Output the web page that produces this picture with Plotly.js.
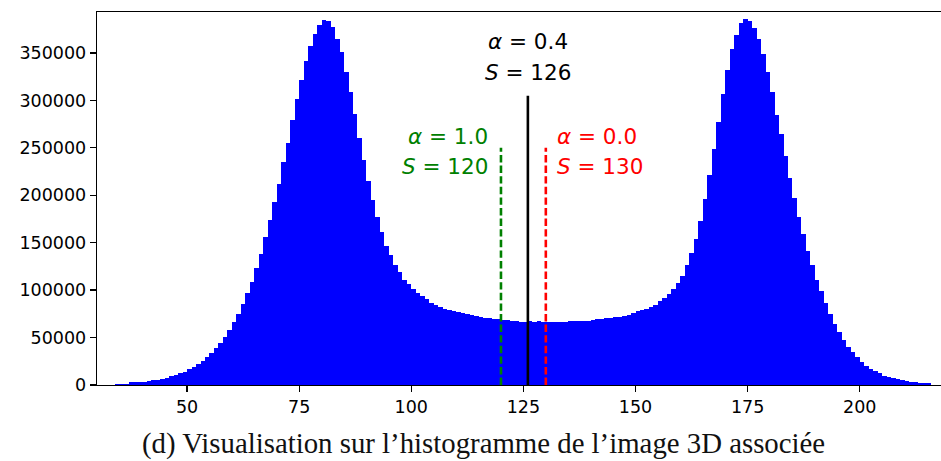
<!DOCTYPE html>
<html>
<head>
<meta charset="utf-8">
<script src="https://cdn.plot.ly/plotly-3.0.1.min.js"></script>
<style>
  html, body { margin: 0; padding: 0; background: #fff; }
  #chart { width: 941px; height: 461px; }
</style>
</head>
<body>
<div id="chart"></div>
<script>
// Grey level (bin start, bins of width 1)
const intensities = [
  34, 35, 36, 37, 38, 39, 40, 41, 42, 43,
  44, 45, 46, 47, 48, 49, 50, 51, 52, 53,
  54, 55, 56, 57, 58, 59, 60, 61, 62, 63,
  64, 65, 66, 67, 68, 69, 70, 71, 72, 73,
  74, 75, 76, 77, 78, 79, 80, 81, 82, 83,
  84, 85, 86, 87, 88, 89, 90, 91, 92, 93,
  94, 95, 96, 97, 98, 99, 100, 101, 102, 103,
  104, 105, 106, 107, 108, 109, 110, 111, 112, 113,
  114, 115, 116, 117, 118, 119, 120, 121, 122, 123,
  124, 125, 126, 127, 128, 129, 130, 131, 132, 133,
  134, 135, 136, 137, 138, 139, 140, 141, 142, 143,
  144, 145, 146, 147, 148, 149, 150, 151, 152, 153,
  154, 155, 156, 157, 158, 159, 160, 161, 162, 163,
  164, 165, 166, 167, 168, 169, 170, 171, 172, 173,
  174, 175, 176, 177, 178, 179, 180, 181, 182, 183,
  184, 185, 186, 187, 188, 189, 190, 191, 192, 193,
  194, 195, 196, 197, 198, 199, 200, 201, 202, 203,
  204, 205, 206, 207, 208, 209, 210, 211, 212, 213,
  214, 215
];
// Voxel counts per grey level
const counts = [
  1400, 1400, 1500, 2800, 2800, 2900, 3000, 3900, 4900, 5000,
  6000, 7400, 9500, 10500, 12300, 13300, 16500, 18600, 21800, 24900,
  29100, 33300, 38600, 43900, 50200, 57500, 66000, 74400, 84900, 96800,
  109000, 122800, 138400, 156300, 174200, 193200, 212100, 235300, 255300, 279500,
  301600, 321600, 341600, 357400, 370000, 379500, 384700, 383700, 377400, 364700,
  351000, 330000, 309000, 285800, 260500, 237400, 215300, 195300, 177400, 161000,
  147000, 137500, 127000, 118600, 111200, 106000, 100700, 96500, 93700, 90200,
  86700, 84600, 81800, 80000, 79000, 77900, 76500, 75400, 74400, 73300,
  72300, 71200, 71000, 70200, 69500, 69300, 68800, 68100, 67000, 67000,
  66900, 66900, 67000, 66300, 67000, 66500, 66000, 66000, 66000, 66000,
  66100, 67000, 67000, 67000, 67100, 67200, 68100, 69100, 69200, 70200,
  70300, 71200, 71400, 73000, 74000, 75400, 77500, 78600, 79600, 81800,
  84600, 88100, 91200, 95400, 100700, 107000, 115400, 126000, 139500, 154200,
  173200, 196300, 221600, 248900, 277400, 306800, 332100, 354200, 368900, 381600,
  385800, 383700, 376300, 364700, 348900, 330000, 308900, 284700, 264700, 241600,
  218400, 197400, 177400, 159500, 141700, 126300, 111200, 98600, 86000, 74400,
  64200, 55400, 47400, 40400, 34400, 29100, 24600, 20400, 17200, 14400,
  12300, 9800, 8100, 7000, 6000, 4900, 4200, 3200, 3100, 1800,
  1800, 1700
];
// Thresholds
const thresholdS = [120, 126, 130];
const thresholdAlpha = ["1.0", "0.4", "0.0"];
const thresholdTop = [250000, 305000, 250000];
const xTicks = [50, 75, 100, 125, 150, 175, 200];
const yTicks = [0, 50000, 100000, 150000, 200000, 250000, 300000, 350000];
const caption = "(d) Visualisation sur l’histogramme de l’image 3D associée";

const hist = {
  type: 'bar',
  x: intensities,
  y: counts,
  width: 1,
  offset: 0,
  marker: { color: '#0000ff', line: { width: 0 } },
  hoverinfo: 'x+y',
  showlegend: false
};

const lineStyles = [
  { color: '#008000', dash: '7.4px,3.2px' },
  { color: '#000000', dash: 'solid' },
  { color: '#ff0000', dash: '7.4px,3.2px' }
];

const vlines = thresholdS.map((s, i) => ({
  type: 'scatter',
  mode: 'lines',
  x: [s, s],
  y: [0, thresholdTop[i]],
  line: { color: lineStyles[i].color, width: 2.6, dash: lineStyles[i].dash },
  hoverinfo: 'skip',
  showlegend: false
}));

const annFont = (c) => ({ family: 'DejaVu Sans', size: 21.5, color: c });
const annotations = [];
// green (alpha=1.0, S=120) right-aligned
annotations.push({ xref: 'x', yref: 'y', x: 117.5, y: 262000, xanchor: 'right', yanchor: 'middle',
  text: '<i>α</i> = ' + thresholdAlpha[0], showarrow: false, font: annFont('#008000') });
annotations.push({ xref: 'x', yref: 'y', x: 117.5, y: 230300, xanchor: 'right', yanchor: 'middle',
  text: '<i>S</i> = ' + thresholdS[0], showarrow: false, font: annFont('#008000') });
// black (alpha=0.4, S=126) centered
annotations.push({ xref: 'x', yref: 'y', x: thresholdS[1], y: 361900, xanchor: 'center', yanchor: 'middle',
  text: '<i>α</i> = ' + thresholdAlpha[1], showarrow: false, font: annFont('#000000') });
annotations.push({ xref: 'x', yref: 'y', x: thresholdS[1], y: 329700, xanchor: 'center', yanchor: 'middle',
  text: '<i>S</i> = ' + thresholdS[1], showarrow: false, font: annFont('#000000') });
// red (alpha=0.0, S=130) left-aligned
annotations.push({ xref: 'x', yref: 'y', x: 132.1, y: 262000, xanchor: 'left', yanchor: 'middle',
  text: '<i>α</i> = ' + thresholdAlpha[2], showarrow: false, font: annFont('#ff0000') });
annotations.push({ xref: 'x', yref: 'y', x: 132.1, y: 230300, xanchor: 'left', yanchor: 'middle',
  text: '<i>S</i> = ' + thresholdS[2], showarrow: false, font: annFont('#ff0000') });
// caption
annotations.push({ xref: 'paper', yref: 'paper', x: 0.458, y: -0.157, xanchor: 'center', yanchor: 'middle',
  text: caption, showarrow: false,
  font: { family: 'Liberation Serif', size: 28.8, color: '#111111' } });

const layout = {
  width: 941,
  height: 461,
  margin: { l: 97, r: 0, t: 12, b: 75.5, pad: 0 },
  paper_bgcolor: '#ffffff',
  plot_bgcolor: '#ffffff',
  bargap: 0,
  showlegend: false,
  xaxis: {
    range: [29.92, 218.12],
    tickvals: xTicks,
    ticktext: xTicks.map(String),
    ticks: 'outside',
    ticklen: 6,
    tickwidth: 1.3,
    tickcolor: '#000',
    showline: true,
    linecolor: '#000',
    linewidth: 1.3,
    mirror: true,
    showgrid: false,
    zeroline: false,
    tickfont: { family: 'DejaVu Sans', size: 17.5, color: '#000' }
  },
  yaxis: {
    range: [0, 393150],
    tickvals: yTicks,
    ticktext: yTicks.map(String),
    ticks: 'outside',
    ticklen: 6,
    tickwidth: 1.3,
    tickcolor: '#000',
    showline: true,
    linecolor: '#000',
    linewidth: 1.3,
    showgrid: false,
    zeroline: false,
    tickfont: { family: 'DejaVu Sans', size: 17.5, color: '#000' }
  },
  annotations: annotations
};

Plotly.newPlot('chart', [hist].concat(vlines), layout, { staticPlot: true, displayModeBar: false });
</script>
</body>
</html>
